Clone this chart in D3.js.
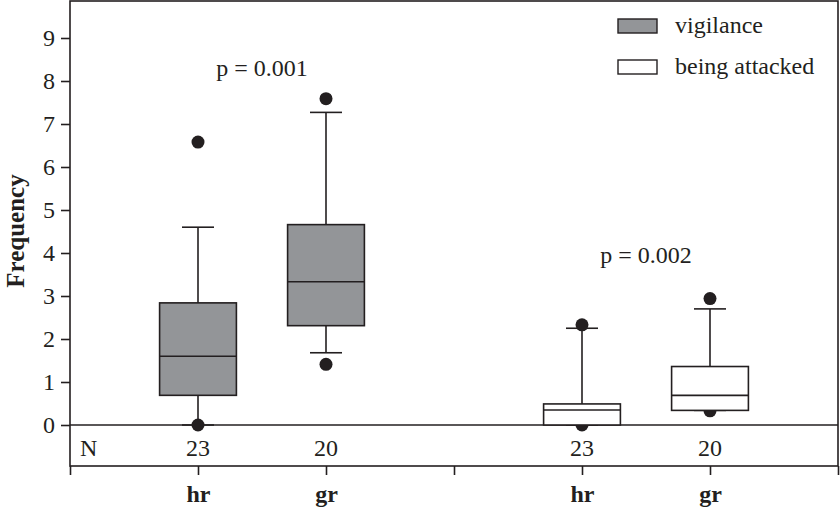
<!DOCTYPE html>
<html>
<head>
<meta charset="utf-8">
<script src="https://cdn.jsdelivr.net/npm/d3@7"></script>
<style>
  body { margin: 0; background: #fff; }
  text { font-family: "Liberation Serif", "DejaVu Serif", serif; fill: #231f20; }
</style>
</head>
<body>
<div class="boxchart"></div>
<script>
// data
const groups = ["hr", "gr", "hr", "gr"];
const series = ["vigilance", "vigilance", "being attacked", "being attacked"];
const nValues = [23, 20, 23, 20];
const whiskerLow = [0, 1.68, 0, 0.34];
const q1 = [0.69, 2.31, 0, 0.34];
const median = [1.60, 3.33, 0.35, 0.69];
const q3 = [2.84, 4.66, 0.49, 1.36];
const whiskerHigh = [4.60, 7.27, 2.25, 2.70];
const outliers = [[6.58, 0], [7.59, 1.41], [2.33, 0], [2.94, 0.33]];
const yTicks = [0, 1, 2, 3, 4, 5, 6, 7, 8, 9];
const pLabels = [{ text: "p = 0.001", at: 8.12 }, { text: "p = 0.002", at: 3.77 }];
const legendNames = ["vigilance", "being attacked"];

const fills = { "vigilance": "#939598", "being attacked": "#ffffff" };
const ink = "#231f20";

const Width = 840, Height = 513;
const Plot = { left: 70, right: 838, top: 1, bottom: 466 };
const fontSize = "24px";

const svg = d3.select(".boxchart").append("svg")
    .attr("width", Width)
    .attr("height", Height);

// slot on the x scale: two groups, a gap, two groups
const slot = i => i < 2 ? i + 1 : i + 2;

const x = d3.scaleLinear().domain([0, 6]).range([Plot.left, Plot.right]);
const y = d3.scaleLinear().domain([0, 9]).range([425, 38]);

const boxHalf = x(0.3) - x(0);
const capHalf = x(0.125) - x(0);

// frame
svg.append("rect")
    .attr("x", Plot.left).attr("y", Plot.top)
    .attr("width", Plot.right - Plot.left)
    .attr("height", Plot.bottom - Plot.top)
    .attr("fill", "none").attr("stroke", ink).attr("stroke-width", 1.6);

// zero line
svg.append("line")
    .attr("x1", Plot.left).attr("x2", Plot.right)
    .attr("y1", y(0)).attr("y2", y(0))
    .attr("stroke", ink).attr("stroke-width", 1.6);

// y axis
const yAxis = svg.append("g")
    .attr("transform", "translate(" + Plot.left + ",0)")
    .call(d3.axisLeft(y).tickValues(yTicks).tickSize(9).tickPadding(6).tickFormat(d3.format("d")));
yAxis.select(".domain").remove();
yAxis.selectAll("line").attr("stroke", ink).attr("stroke-width", 1.6);
yAxis.selectAll("text").style("font-size", fontSize).attr("fill", ink)
    .style("font-family", "'Liberation Serif', serif");

// y label
svg.append("text")
    .attr("transform", "rotate(-90)")
    .attr("x", -231)
    .attr("y", 24)
    .attr("text-anchor", "middle")
    .style("font-size", "25px")
    .style("font-weight", "bold")
    .text("Frequency");

// x axis
const xAxis = svg.append("g")
    .attr("transform", "translate(0," + Plot.bottom + ")")
    .call(d3.axisBottom(x).tickValues([0, 1, 2, 3, 4, 5, 6]).tickSize(9).tickPadding(10)
      .tickFormat(d => {
        const i = groups.findIndex((g, k) => slot(k) === d);
        return i >= 0 ? groups[i] : "";
      }));
xAxis.select(".domain").remove();
xAxis.selectAll("line").attr("stroke", ink).attr("stroke-width", 1.6);
xAxis.selectAll("text").style("font-size", fontSize).style("font-weight", "bold")
    .attr("fill", ink).style("font-family", "'Liberation Serif', serif");

// N row
svg.append("text")
    .attr("x", 80).attr("y", 456)
    .style("font-size", fontSize)
    .text("N");
svg.selectAll(".ncount")
  .data(nValues)
  .enter().append("text")
    .attr("class", "ncount")
    .attr("x", (d, i) => x(slot(i)))
    .attr("y", 456)
    .attr("text-anchor", "middle")
    .style("font-size", fontSize)
    .text(d => d);

const boxes = svg.selectAll(".box")
  .data(groups)
  .enter().append("g")
    .attr("class", "box");

// whiskers
boxes.append("line")
    .attr("x1", (d, i) => x(slot(i))).attr("x2", (d, i) => x(slot(i)))
    .attr("y1", (d, i) => y(whiskerLow[i])).attr("y2", (d, i) => y(whiskerHigh[i]))
    .attr("stroke", ink).attr("stroke-width", 1.6);
boxes.append("line")
    .attr("x1", (d, i) => x(slot(i)) - capHalf).attr("x2", (d, i) => x(slot(i)) + capHalf)
    .attr("y1", (d, i) => y(whiskerHigh[i])).attr("y2", (d, i) => y(whiskerHigh[i]))
    .attr("stroke", ink).attr("stroke-width", 1.6);
boxes.append("line")
    .attr("x1", (d, i) => x(slot(i)) - capHalf).attr("x2", (d, i) => x(slot(i)) + capHalf)
    .attr("y1", (d, i) => y(whiskerLow[i])).attr("y2", (d, i) => y(whiskerLow[i]))
    .attr("stroke", ink).attr("stroke-width", 1.6);

// outliers
boxes.selectAll("circle")
  .data((d, i) => outliers[i].map(v => ({ v: v, i: i })))
  .enter().append("circle")
    .attr("cx", d => x(slot(d.i)))
    .attr("cy", d => y(d.v))
    .attr("r", 6.5)
    .attr("fill", ink);

// box and median
boxes.append("rect")
    .attr("x", (d, i) => x(slot(i)) - boxHalf)
    .attr("y", (d, i) => y(q3[i]))
    .attr("width", boxHalf * 2)
    .attr("height", (d, i) => y(q1[i]) - y(q3[i]))
    .attr("fill", (d, i) => fills[series[i]])
    .attr("stroke", ink).attr("stroke-width", 1.6);
boxes.append("line")
    .attr("x1", (d, i) => x(slot(i)) - boxHalf).attr("x2", (d, i) => x(slot(i)) + boxHalf)
    .attr("y1", (d, i) => y(median[i])).attr("y2", (d, i) => y(median[i]))
    .attr("stroke", ink).attr("stroke-width", 1.6);

// p values
svg.selectAll(".pval")
  .data(pLabels)
  .enter().append("text")
    .attr("class", "pval")
    .attr("x", (d, i) => (x(slot(i * 2)) + x(slot(i * 2 + 1))) / 2)
    .attr("y", d => y(d.at))
    .attr("text-anchor", "middle")
    .style("font-size", fontSize)
    .text(d => d.text);

// legend
const legend = svg.selectAll(".legend")
  .data(legendNames)
  .enter().append("g")
    .attr("class", "legend")
    .attr("transform", (d, i) => "translate(618," + (19 + i * 41) + ")");
legend.append("rect")
    .attr("width", 39).attr("height", 14)
    .attr("fill", d => fills[d])
    .attr("stroke", ink).attr("stroke-width", 1.4);
legend.append("text")
    .attr("x", 57).attr("y", 14)
    .style("font-size", fontSize)
    .text(d => d);
</script>
</body>
</html>
